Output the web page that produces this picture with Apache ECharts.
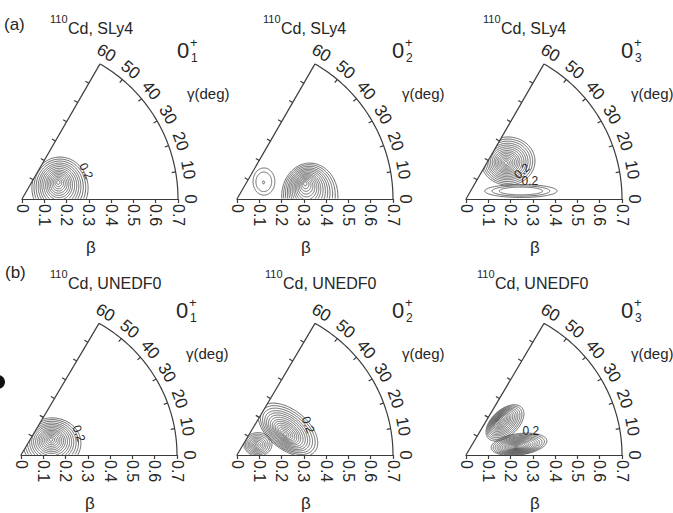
<!DOCTYPE html>
<html>
<head>
<meta charset="utf-8">
<script src="https://cdn.jsdelivr.net/npm/echarts@6/dist/echarts.min.js"></script>
<style>
  html, body { margin: 0; padding: 0; background: #ffffff; }
  #chart { width: 673px; height: 513px; }
</style>
</head>
<body>
<div id="chart"></div>
<script>
// ---- axis ticks -------------------------------------------------------
const betaTickLabels = ['0', '0.1', '0.2', '0.3', '0.4', '0.5', '0.6', '0.7'];
const gammaTicks = [0, 10, 20, 30, 40, 50, 60];
const gammaTickLabels = ['0', '10', '20', '30', '40', '50', '60'];
const edgeTicks = [0.1, 0.2, 0.3, 0.4, 0.5, 0.6];
const betaMax = 0.7;
const gammaMax = 60;

// ---- panel texts --------------------------------------------------------
const rowTags = ['(a)', '(b)'];
const massNumber = '110';
const forces = ['Cd, SLy4', 'Cd, UNEDF0'];
const stateIndices = ['1', '2', '3'];

// ---- contour rings, as fractions of the outermost ring ---------------------
const ringsDense = [1, 0.92, 0.84, 0.76, 0.69, 0.62, 0.55, 0.48, 0.42, 0.36, 0.30, 0.24, 0.18, 0.12, 0.06];
const ringsMedium = [1, 0.90, 0.80, 0.71, 0.62, 0.53, 0.45, 0.37, 0.29, 0.21, 0.14, 0.07];
const ringsThin = [1, 0.8, 0.6];
const ringsSparse = [1, 0.72, 0.1];
const ringsSeven = [1, 0.88, 0.76, 0.64, 0.53, 0.42, 0.31, 0.20, 0.09];
const ringSets = [ringsDense, ringsMedium, ringsThin, ringsSparse, ringsSeven];

// ---- collective wave-function peaks ---------------------------------------
// [beta, gamma(deg) at maximum, beta, gamma of outer contour centre,
//  half-width along tilt, half-width across, tilt(deg), ring set]
const peaksSly4First  = [[0.179, 25.0, 0.1775, 16.1, 0.126, 0.139, 0, 0]];
const peaksSly4Second = [[0.3135, 13.2, 0.327, 2.3, 0.126, 0.148, 0, 0],
                         [0.140, 31.9, 0.144, 32.9, 0.049, 0.061, 0, 3]];
const peaksSly4Third  = [[0.2415, 42.0, 0.254, 42.1, 0.121, 0.108, 0, 0],
                         [0.249, 8.3, 0.249, 8.3, 0.162, 0.029, 0, 2]];
const peaksUnedfFirst  = [[0.1526, 28.1, 0.149, 21.2, 0.130, 0.117, 0, 0]];
const peaksUnedfSecond = [[0.235, 23.6, 0.257, 27.0, 0.157, 0.090, -40, 0],
                          [0.096, 27.8, 0.106, 27.6, 0.063, 0.054, 0, 4]];
const peaksUnedfThird  = [[0.219, 47.5, 0.229, 40.2, 0.103, 0.060, 44, 0],
                          [0.227, 9.1, 0.243, 11.7, 0.126, 0.049, 8, 0]];

// contour level labels: [beta, gamma(deg), level]
const levelsSly4First  = [[0.3135, 23.6, 0.2]];
const levelsSly4Second = [];
const levelsSly4Third  = [[0.281, 26.6, 0.2], [0.298, 15.7, 0.2]];
const levelsUnedfFirst  = [[0.278, 20.8, 0.2]];
const levelsUnedfSecond = [[0.348, 23.6, 0.2]];
const levelsUnedfThird  = [[0.312, 21.0, 0.2]];

// ---- layout -------------------------------------------------------------
const panels = [
  { origin: [22, 199],  row: 0, state: 0, peaks: peaksSly4First,   levels: levelsSly4First,   levelRot: [-63], titleX: 50 },
  { origin: [237, 199], row: 0, state: 1, peaks: peaksSly4Second,  levels: levelsSly4Second,  levelRot: [], titleX: 263 },
  { origin: [466, 199], row: 0, state: 2, peaks: peaksSly4Third,   levels: levelsSly4Third,   levelRot: [40, 0], titleX: 483 },
  { origin: [21, 459],  row: 1, state: 0, peaks: peaksUnedfFirst,  levels: levelsUnedfFirst,  levelRot: [-70], titleX: 50 },
  { origin: [237, 459], row: 1, state: 1, peaks: peaksUnedfSecond, levels: levelsUnedfSecond, levelRot: [-70], titleX: 265 },
  { origin: [466, 459], row: 1, state: 2, peaks: peaksUnedfThird,  levels: levelsUnedfThird,  levelRot: [0], titleX: 477 }
];
const titleY = [28, 283];     // centre line of "Cd, ..." per row
const tagY = [24, 272];
const SIZE = 156;            // pixel length of beta = 0.7
const FONT = '"Liberation Sans", Arial, Helvetica, sans-serif';
const frameColor = '#3c3c3c';
const textColor = '#262626';
const contourColor = '#4e4e4e';

function toXY(beta, gammaDeg) {
  const g = gammaDeg * Math.PI / 180;
  return [beta * Math.cos(g), beta * Math.sin(g)];
}

function frameRenderer(params, api) {
  const children = [];
  const lineStyle = { stroke: frameColor, lineWidth: 1.2, fill: null };
  // arc at beta = 0.7
  const arc = [];
  for (let g = 0; g <= gammaMax; g += 1) arc.push(api.coord(toXY(betaMax, g)));
  children.push({ type: 'polyline', shape: { points: arc }, style: lineStyle });
  // gamma = 60 edge
  const o = api.coord([0, 0]);
  const apex = api.coord(toXY(betaMax, gammaMax));
  children.push({ type: 'line', shape: { x1: o[0], y1: o[1], x2: apex[0], y2: apex[1] }, style: lineStyle });
  // ticks on the gamma = 60 edge, pointing outward
  const s60 = Math.sin(Math.PI / 3), c60 = Math.cos(Math.PI / 3);
  edgeTicks.forEach(b => {
    const p = api.coord(toXY(b, gammaMax));
    children.push({ type: 'line', shape: { x1: p[0], y1: p[1], x2: p[0] - 4 * s60, y2: p[1] - 4 * c60 }, style: lineStyle });
  });
  // ticks on the arc, pointing inward, and their labels
  gammaTicks.forEach((g, i) => {
    const r = g * Math.PI / 180;
    const p = api.coord(toXY(betaMax, g));
    if (g > 0 && g < gammaMax) {
      children.push({ type: 'line', shape: { x1: p[0], y1: p[1], x2: p[0] - 4 * Math.cos(r), y2: p[1] + 4 * Math.sin(r) }, style: lineStyle });
    }
    const q = api.coord(toXY(0.757, g));
    children.push({
      type: 'text', x: q[0], y: q[1], rotation: (g - 90) * Math.PI / 180,
      style: { text: gammaTickLabels[i], fill: textColor, fontSize: 17, fontFamily: FONT,
               align: 'center', verticalAlign: 'middle', textAlign: 'center', textVerticalAlign: 'middle' }
    });
  });
  return { type: 'group', children };
}

function contourRenderer(params, api) {
  const bp = api.value(0), gp = api.value(1), bo = api.value(2), go = api.value(3);
  const ha = api.value(4), hb = api.value(5), tilt = api.value(6) * Math.PI / 180;
  const rings = ringSets[api.value(7)];
  const P = toXY(bp, gp), Q = toXY(bo, go);
  const children = [];
  const style = { stroke: contourColor, lineWidth: 0.85, fill: null };
  const N = 160;
  rings.forEach(f => {
    const cx = P[0] + f * (Q[0] - P[0]);
    const cy = P[1] + f * (Q[1] - P[1]);
    let seg = [];
    for (let k = 0; k <= N; k++) {
      const t = k / N * 2 * Math.PI;
      const u = f * ha * Math.cos(t), v = f * hb * Math.sin(t);
      const x = cx + u * Math.cos(tilt) - v * Math.sin(tilt);
      const y = cy + u * Math.sin(tilt) + v * Math.cos(tilt);
      const inside = y >= 0 && Math.atan2(y, x) <= gammaMax * Math.PI / 180 && Math.hypot(x, y) <= betaMax;
      if (inside) {
        seg.push(api.coord([x, y]));
      } else {
        if (seg.length > 1) children.push({ type: 'polyline', shape: { points: seg }, style });
        seg = [];
      }
    }
    if (seg.length > 1) children.push({ type: 'polyline', shape: { points: seg }, style });
  });
  return { type: 'group', children };
}

function makeLevelRenderer(panel) {
  return function (params, api) {
    const p = api.coord(toXY(api.value(0), api.value(1)));
    return {
      type: 'text', x: p[0], y: p[1],
      rotation: (panel.levelRot[params.dataIndex] || 0) * Math.PI / 180,
      style: { text: String(api.value(2)), fill: textColor, fontSize: 12, fontFamily: FONT,
               align: 'center', verticalAlign: 'middle', textAlign: 'center', textVerticalAlign: 'middle' }
    };
  };
}

const grid = [], xAxis = [], yAxis = [], series = [], graphic = [];

panels.forEach((panel, i) => {
  const [ox, oy] = panel.origin;
  grid.push({ left: ox, top: oy - SIZE, width: SIZE, height: SIZE, containLabel: false });
  xAxis.push({
    gridIndex: i, type: 'value', min: 0, max: betaMax, interval: 0.1,
    name: 'β', nameLocation: 'middle', nameGap: 40,
    nameTextStyle: { fontSize: 17, fontFamily: FONT, color: textColor, padding: [0, 18, 0, 0] },
    axisLine: { show: true, onZero: false, lineStyle: { color: frameColor, width: 1.2 } },
    axisTick: { show: true, length: 4, lineStyle: { color: frameColor, width: 1.2 } },
    splitLine: { show: false },
    axisLabel: {
      show: true, rotate: -90, margin: 5, fontSize: 16, fontFamily: FONT, color: textColor,
      formatter: (v) => betaTickLabels[Math.round(v * 10)]
    }
  });
  yAxis.push({ gridIndex: i, type: 'value', min: 0, max: betaMax, show: false, splitLine: { show: false } });

  series.push({
    type: 'custom', xAxisIndex: i, yAxisIndex: i, clip: false, silent: true,
    data: [[0, 0]], renderItem: frameRenderer, z: 3
  });
  series.push({
    type: 'custom', xAxisIndex: i, yAxisIndex: i, clip: false, silent: true,
    data: panel.peaks, renderItem: contourRenderer, z: 2
  });
  if (panel.levels.length) {
    series.push({
      type: 'custom', xAxisIndex: i, yAxisIndex: i, clip: false, silent: true,
      data: panel.levels, renderItem: makeLevelRenderer(panel), z: 4
    });
  }

  const ty = titleY[panel.row];
  // nucleus and functional
  graphic.push({ type: 'text', x: panel.titleX, y: ty - 9,
    style: { text: massNumber, fill: textColor, fontSize: 11, fontFamily: FONT, verticalAlign: 'middle', textVerticalAlign: 'middle' } });
  graphic.push({ type: 'text', x: panel.titleX + 18, y: ty,
    style: { text: forces[panel.row], fill: textColor, fontSize: 16, fontFamily: FONT, verticalAlign: 'middle', textVerticalAlign: 'middle' } });
  // state label 0^+_n
  graphic.push({ type: 'text', x: ox + 155, y: oy - 149,
    style: { text: '0', fill: textColor, fontSize: 22, fontFamily: FONT, verticalAlign: 'middle', textVerticalAlign: 'middle' } });
  graphic.push({ type: 'text', x: ox + 168, y: oy - 157,
    style: { text: '+', fill: textColor, fontSize: 13, fontFamily: FONT, verticalAlign: 'middle', textVerticalAlign: 'middle' } });
  graphic.push({ type: 'text', x: ox + 169, y: oy - 141,
    style: { text: stateIndices[panel.state], fill: textColor, fontSize: 12, fontFamily: FONT, verticalAlign: 'middle', textVerticalAlign: 'middle' } });
  // gamma axis title
  graphic.push({ type: 'text', x: ox + 165, y: oy - 106,
    style: { text: 'γ(deg)', fill: textColor, fontSize: 15, fontFamily: FONT, verticalAlign: 'middle', textVerticalAlign: 'middle' } });
});

// row tags
graphic.push({ type: 'text', x: 4, y: tagY[0],
  style: { text: rowTags[0], fill: textColor, fontSize: 17, fontFamily: FONT, verticalAlign: 'middle', textVerticalAlign: 'middle' } });
graphic.push({ type: 'text', x: 5, y: tagY[1],
  style: { text: rowTags[1], fill: textColor, fontSize: 17, fontFamily: FONT, verticalAlign: 'middle', textVerticalAlign: 'middle' } });
// dark mark on the left margin
graphic.push({ type: 'circle', shape: { cx: -2, cy: 382, r: 7 }, style: { fill: '#111' } });

const chart = echarts.init(document.getElementById('chart'), null, { renderer: 'svg' });
chart.setOption({
  animation: false,
  backgroundColor: '#ffffff',
  grid, xAxis, yAxis, series, graphic
});
</script>
</body>
</html>
